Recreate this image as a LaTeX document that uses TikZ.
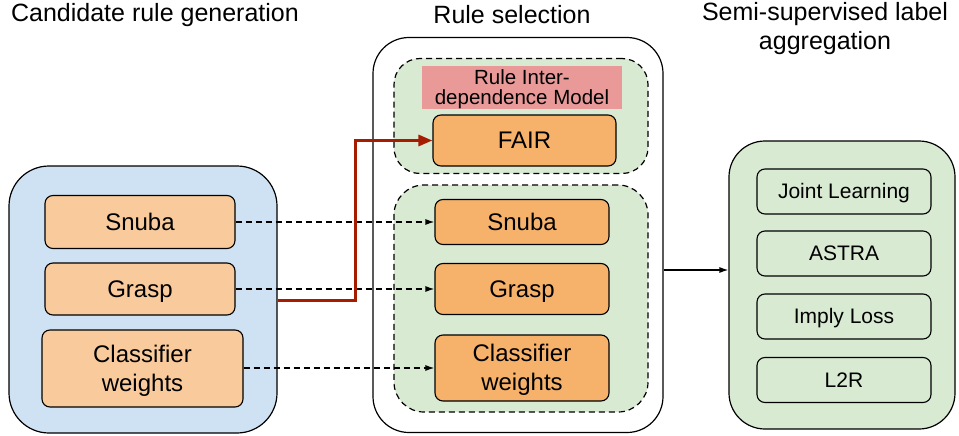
\documentclass[tikz,border=0pt]{standalone}
\usepackage{fontspec}
\setmainfont{Liberation Sans}
\usepackage{xcolor}
\usepackage{tikz}
\usetikzlibrary{arrows.meta}

\definecolor{boxblue}{HTML}{CFE2F3}
\definecolor{ruleorange}{HTML}{F9CB9C}
\definecolor{selorange}{HTML}{F6B26B}
\definecolor{grpgreen}{HTML}{D9EAD3}
\definecolor{modelpink}{HTML}{EA9999}
\definecolor{linkred}{HTML}{A61C00}

\tikzset{
  group/.style={draw, line width=1.2pt, inner sep=0pt, rectangle},
  % line box like the drawing tool: ascent + last-line depth
  oneline/.style={text height=21.7pt, text depth=5.1pt},
  twoline/.style={text height=50.7pt, text depth=5.1pt},
  rulebox/.style={draw, line width=1.1pt, rounded corners=8pt, inner sep=0pt,
    align=center, font=\fontsize{24}{29}\selectfont},
  aggbox/.style={rulebox, fill=grpgreen, minimum width=174pt, minimum height=45pt,
    text height=19pt, text depth=4.45pt, font=\fontsize{21}{25}\selectfont},
  title/.style={align=center, font=\fontsize{25}{29}\selectfont},
  dashlink/.style={dash pattern=on 6pt off 4pt, line width=1.3pt, -{Latex[length=9pt,width=6pt]}},
}

\begin{document}
\begin{tikzpicture}[x=1pt, y=-1pt]
  \useasboundingbox (0,0) rectangle (959,436);

  % titles
  \node[title] (t1) at (155,15) {Candidate rule generation};
  \node[title] (t2) at (512,15) {Rule selection};
  \node[title] (t3) at (825,29) {Semi-supervised label\\aggregation};

  % candidate rules
  \node[group, fill=boxblue, rounded corners=40pt, minimum width=268pt, minimum height=267pt] (lbox) at (143,299.5) {};
  \node[rulebox, oneline, fill=ruleorange, minimum width=190pt, minimum height=53pt] (lsnuba) at (140,222) {Snuba};
  \node[rulebox, oneline, fill=ruleorange, minimum width=190pt, minimum height=52pt] (lgrasp) at (140,289) {Grasp};
  \node[rulebox, twoline, fill=ruleorange, minimum width=201pt, minimum height=77pt] (lclf) at (142.5,368.5) {Classifier\\weights};

  % rule selection
  \node[group, rounded corners=36pt, minimum width=290pt, minimum height=395pt] (mbox) at (518,235) {};
  \node[group, fill=grpgreen, dash pattern=on 6pt off 4pt, rounded corners=26pt, minimum width=254pt, minimum height=115pt] (topgrp) at (521,116) {};
  \node[fill=modelpink, inner sep=0pt, minimum width=200pt, minimum height=41pt, align=center,
    text height=38.5pt, text depth=4.35pt, font=\fontsize{20.5}{20}\selectfont] (model) at (522,87.5) {Rule Inter-\\dependence Model};
  \node[rulebox, oneline, fill=selorange, minimum width=183pt, minimum height=51pt] (fair) at (524.5,140.5) {FAIR};
  \node[group, fill=grpgreen, dash pattern=on 6pt off 4pt, rounded corners=30pt, minimum width=254pt, minimum height=227pt] (botgrp) at (521,298.5) {};
  \node[rulebox, oneline, fill=selorange, minimum width=174pt, minimum height=45pt] (msnuba) at (522,222) {Snuba};
  \node[rulebox, oneline, fill=selorange, minimum width=174pt, minimum height=51pt] (mgrasp) at (522,289) {Grasp};
  \node[rulebox, twoline, fill=selorange, minimum width=174pt, minimum height=66pt] (mclf) at (522,368) {Classifier\\weights};

  % label aggregation
  \node[group, fill=grpgreen, rounded corners=36pt, minimum width=226pt, minimum height=288pt] (rbox) at (842,285) {};
  \node[aggbox] (joint) at (844,191.5) {Joint Learning};
  \node[aggbox] (astra) at (844,253.5) {ASTRA};
  \node[aggbox] (imply) at (844,316.5) {Imply Loss};
  \node[aggbox] (ltr) at (844,380) {L2R};

  % links
  \draw[dashlink] (lsnuba) -- (msnuba);
  \draw[dashlink] (lgrasp) -- (mgrasp);
  \draw[dashlink] (lclf.east |- mclf) -- (mclf);
  \coordinate (bend) at (355,300);
  \draw[linkred, line width=3pt, -{Triangle[length=14pt,width=11pt]}] (lbox.east |- bend) -- (bend) |- (fair.west);
  \coordinate (mout) at (664,270);
  \draw[line width=1.2pt, -{Latex[length=9pt,width=6pt]}] (mout) -- (rbox.west |- mout);
\end{tikzpicture}
\end{document}
